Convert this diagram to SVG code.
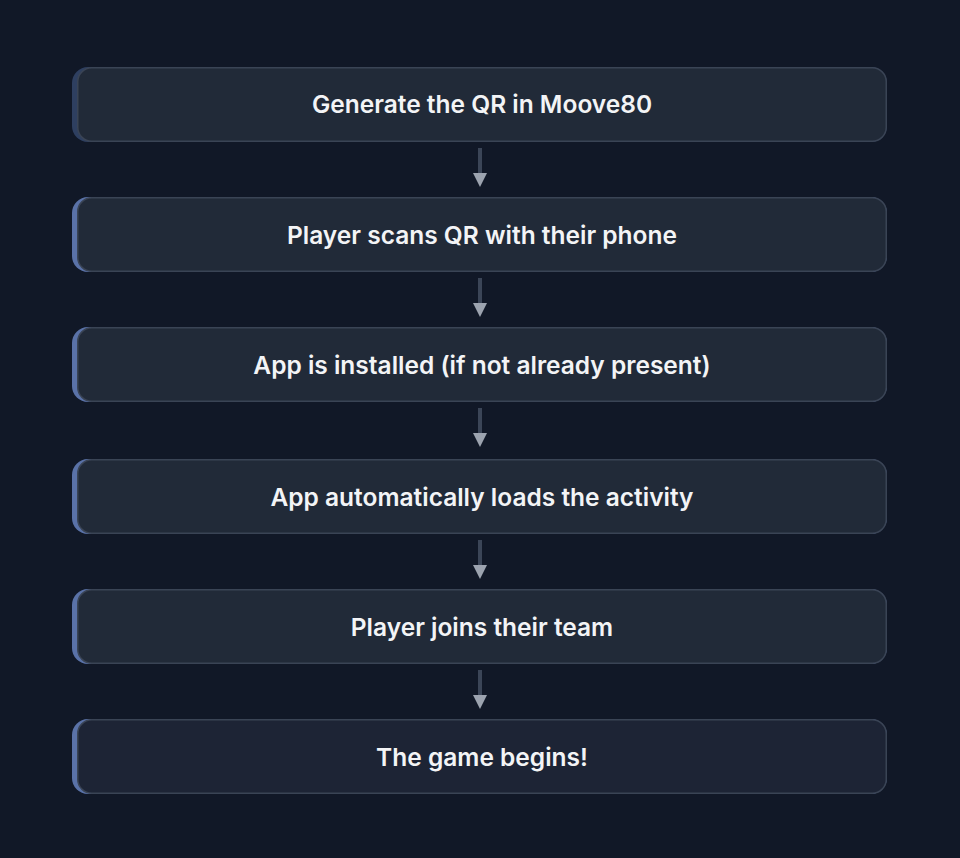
<svg xmlns="http://www.w3.org/2000/svg" width="960" height="858" viewBox="0 0 960 858">
<defs>
<style>
.bg{fill:#111827}
.acc{fill:#5a72a8}
.acc0{fill:#2e3f60}
.box{fill:#212a38;stroke:#3a4455;stroke-width:1.5}
.box6{fill:#1d2435;stroke:#3a4455;stroke-width:1.5}
.lbl{font-family:Inter,"Noto Sans",sans-serif;font-weight:600;font-size:24.5px;fill:#f3f4f6;text-anchor:middle;dominant-baseline:central;letter-spacing:0px}
.shaft{stroke:#3b4557;stroke-width:4}
.head{fill:#9ca3af}
</style>
</defs>
<rect class="bg" x="0" y="0" width="960" height="858"/>
<g id="n1">
<rect class="acc0" x="72" y="67" width="815" height="75" rx="16"/>
<rect class="box" x="77.75" y="67.75" width="808.5" height="73.5" rx="14"/>
<text class="lbl" x="482" y="104">Generate the QR in Moove80</text>
</g>
<g id="n2">
<rect class="acc" x="72" y="197" width="815" height="75" rx="16"/>
<rect class="box" x="77.75" y="197.75" width="808.5" height="73.5" rx="14"/>
<text class="lbl" x="482" y="235">Player scans QR with their phone</text>
</g>
<g id="n3">
<rect class="acc" x="72" y="327" width="815" height="75" rx="16"/>
<rect class="box" x="77.75" y="327.75" width="808.5" height="73.5" rx="14"/>
<text class="lbl" x="482" y="365">App is installed (if not already present)</text>
</g>
<g id="n4">
<rect class="acc" x="72" y="459" width="815" height="75" rx="16"/>
<rect class="box" x="77.75" y="459.75" width="808.5" height="73.5" rx="14"/>
<text class="lbl" x="482" y="497">App automatically loads the activity</text>
</g>
<g id="n5">
<rect class="acc" x="72" y="589" width="815" height="75" rx="16"/>
<rect class="box" x="77.75" y="589.75" width="808.5" height="73.5" rx="14"/>
<text class="lbl" x="482" y="627">Player joins their team</text>
</g>
<g id="n6">
<rect class="acc" x="72" y="719" width="815" height="75" rx="16"/>
<rect class="box6" x="77.75" y="719.75" width="808.5" height="73.5" rx="14"/>
<text class="lbl" x="482" y="757">The game begins!</text>
</g>
<g id="connectors">
<line class="shaft" x1="480" y1="148" x2="480" y2="174"/>
<polygon class="head" points="473,173 487,173 480,187"/>
<line class="shaft" x1="480" y1="278" x2="480" y2="304"/>
<polygon class="head" points="473,303 487,303 480,317"/>
<line class="shaft" x1="480" y1="408" x2="480" y2="434"/>
<polygon class="head" points="473,433 487,433 480,447"/>
<line class="shaft" x1="480" y1="540" x2="480" y2="566"/>
<polygon class="head" points="473,565 487,565 480,579"/>
<line class="shaft" x1="480" y1="670" x2="480" y2="696"/>
<polygon class="head" points="473,695 487,695 480,709"/>
</g>
</svg>
